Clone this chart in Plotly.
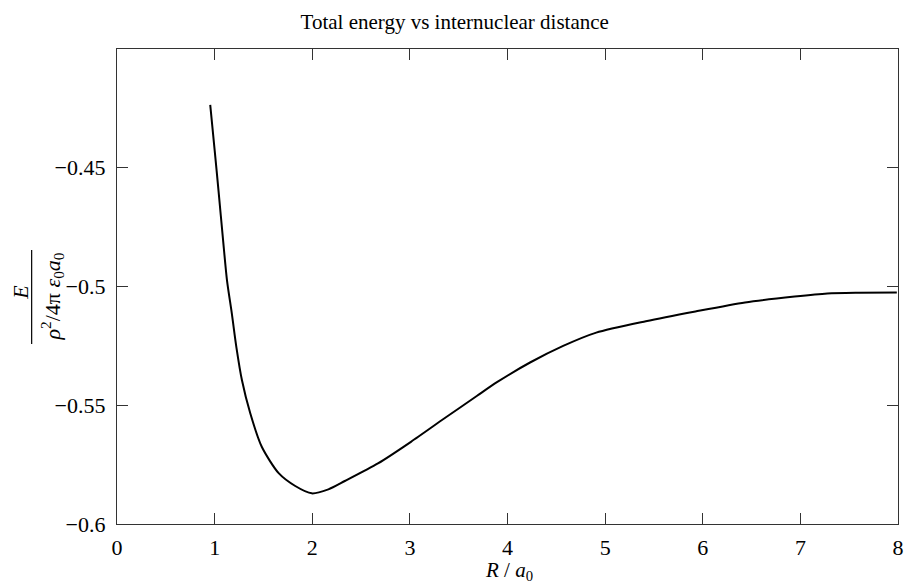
import plotly.graph_objects as go

# Data
R_values = [0.955, 1.001, 1.040, 1.087, 1.127, 1.176, 1.223, 1.280, 1.365, 1.484,
            1.656, 1.826, 1.995, 2.165, 2.334, 2.673, 3.011, 3.351, 3.689, 3.892,
            4.231, 4.570, 4.909, 5.417, 5.925, 6.433, 6.941, 7.276, 7.600, 7.988]
E_values = [-0.4235, -0.4429, -0.4597, -0.4807, -0.4975, -0.5113, -0.5256, -0.5395,
            -0.5534, -0.5676, -0.5786, -0.5840, -0.5871, -0.5854, -0.5819, -0.5745,
            -0.5654, -0.5556, -0.5460, -0.5403, -0.5320, -0.5250, -0.5194, -0.5146,
            -0.5105, -0.5067, -0.5042, -0.5029, -0.5026, -0.5025]

x_ticks = [0, 1, 2, 3, 4, 5, 6, 7, 8]
y_ticks = [-0.6, -0.55, -0.5, -0.45]
y_tick_labels = ["\u22120.6", "\u22120.55", "\u22120.5", "\u22120.45"]

title_text = "Total energy vs internuclear distance"
x_title = "<i>R</i> / <i>a</i><sub>0</sub>"
y_num = "<i>E</i>"
y_den = "<i>\u03c1</i><sup>2</sup>/4\u03c0 <i>\u03b5</i><sub>0</sub><i>a</i><sub>0</sub>"

W, H = 906, 585
ML, MR, MT, MB = 117, 2, 49, 61
PW, PH = W - ML - MR, H - MT - MB

def px(x):
    return (x - ML) / PW

def py(y):
    return (H - MB - y) / PH

FONT = "Liberation Serif, Times New Roman, serif"

fig = go.Figure()
fig.add_trace(go.Scatter(x=R_values, y=E_values, mode="lines",
                         line=dict(color="black", width=2, shape="spline", smoothing=0.7),
                         showlegend=False, hoverinfo="skip"))

axis_common = dict(showline=True, linecolor="#333333", linewidth=1.3, mirror="ticks",
                   ticks="inside", ticklen=11, tickwidth=1.3, tickcolor="#333333",
                   showgrid=False, zeroline=False, ticklabeloverflow="allow",
                   tickfont=dict(family=FONT, size=22, color="black"))

fig.update_layout(
    width=W, height=H,
    margin=dict(l=ML, r=MR, t=MT, b=MB),
    font=dict(family=FONT, color="black"),
    paper_bgcolor="white", plot_bgcolor="white",
    title=dict(text=title_text, x=px(512), xanchor="center", y=1 - 22 / H, yanchor="middle",
               font=dict(family=FONT, size=21, color="black")),
    xaxis=dict(range=[0, 8], tickvals=x_ticks, ticklabelstandoff=3, **axis_common),
    yaxis=dict(range=[-0.6, -0.4], tickvals=y_ticks, ticktext=y_tick_labels,
               ticklabelstandoff=6, **axis_common),
    annotations=[
        dict(text=x_title, x=px(512), y=py(571), xref="paper", yref="paper",
             showarrow=False, font=dict(family=FONT, size=21, color="black"),
             xanchor="center", yanchor="middle"),
        dict(text=y_num, x=px(19), y=py(292), xref="paper", yref="paper",
             showarrow=False, textangle=-90, font=dict(family=FONT, size=22, color="black"),
             xanchor="center", yanchor="middle"),
        dict(text=y_den, x=px(51), y=py(297), xref="paper", yref="paper",
             showarrow=False, textangle=-90, font=dict(family=FONT, size=22, color="black"),
             xanchor="center", yanchor="middle"),
    ],
    shapes=[
        dict(type="line", xref="paper", yref="paper", x0=px(31), x1=px(31),
             y0=py(250), y1=py(344), line=dict(color="black", width=1.2)),
    ],
)

fig.write_html("out.html")
